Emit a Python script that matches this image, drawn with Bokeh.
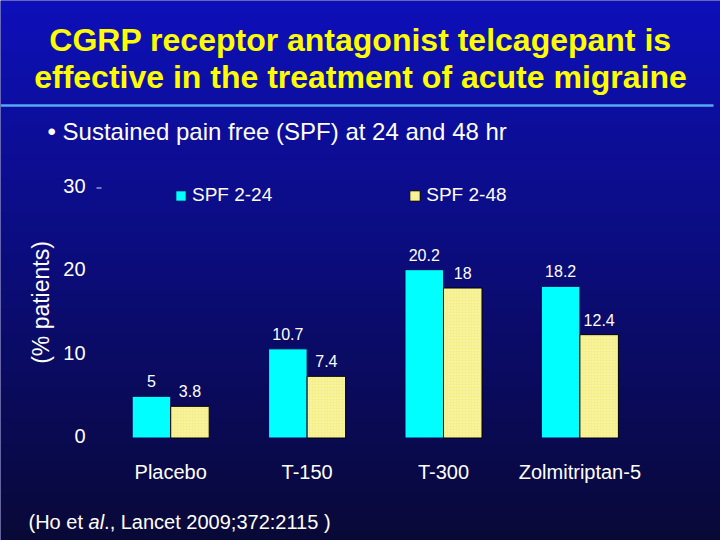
import numpy as np
from bokeh.plotting import figure
from bokeh.models import Range1d, ColumnDataSource, Label, Legend, LegendItem
from bokeh.embed import file_html
from bokeh.resources import INLINE
from bokeh.core.properties import value

# ---------------- data ----------------
categories = ["Placebo", "T-150", "T-300", "Zolmitriptan-5"]
spf_2_24 = [5, 10.7, 20.2, 18.2]
spf_2_48 = [3.8, 7.4, 18, 12.4]
labels_2_24 = ["5", "10.7", "20.2", "18.2"]
labels_2_48 = ["3.8", "7.4", "18", "12.4"]
series_names = ["SPF 2-24", "SPF 2-48"]
y_ticks = [0, 10, 20, 30]
y_tick_labels = ["0", "10", "20", "30"]
title_lines = ["CGRP receptor antagonist telcagepant is",
               "effective in the treatment of acute migraine"]
subtitle = "\u2022 Sustained pain free (SPF) at 24 and 48 hr"
y_title = "(% patients)"
foot_parts = ["(Ho et ", "al", "., Lancet 2009;372:2115 )"]

# ---------------- layout ----------------
W, H = 720, 540
GROUP_PX = 136.4      # pixels between group centres
FIRST_PX = 170.2      # pixel x of first group centre
ZERO_PX = 437.5       # pixel y (from top) of value 0
UNIT_PX = 8.333       # pixels per percentage point
BAR_W = 38.5 / GROUP_PX
FONT = "Liberation Sans"


def px_x(px):
    return (px - FIRST_PX) / GROUP_PX


def px_y(py_top):
    return (ZERO_PX - py_top) / UNIT_PX


x0, x1 = px_x(0), px_x(W)
y0, y1 = px_y(H), px_y(0)

p = figure(width=W, height=H, x_range=Range1d(x0, x1), y_range=Range1d(y0, y1),
           output_backend="svg", toolbar_location=None,
           x_axis_type=None, y_axis_type=None, min_border=0)
p.grid.visible = False
p.outline_line_color = None
p.background_fill_color = "#0a0a80"
p.border_fill_color = "#0a0a80"

# background gradient (bottom row first)
N = 270
top = np.array([14, 16, 186], dtype=float)
bot = np.array([9, 9, 56], dtype=float)
t = np.linspace(0, 1, N)[:, None]
cols = (bot + (top - bot) * t).astype(np.uint32)
img = np.empty((N, 1), dtype=np.uint32)
view = img.view(dtype=np.uint8).reshape((N, 1, 4))
view[:, 0, 0] = cols[:, 0]
view[:, 0, 1] = cols[:, 1]
view[:, 0, 2] = cols[:, 2]
view[:, 0, 3] = 255
p.image_rgba(image=[img], x=x0, y=y0, dw=x1 - x0, dh=y1 - y0)

# separator line under title
p.segment(x0=[px_x(0)], y0=[px_y(105)], x1=[px_x(713)], y1=[px_y(105)],
          line_color="#55aaf5", line_width=2.5)

# ---------------- bars ----------------
idx = list(range(len(categories)))
src = ColumnDataSource(dict(
    x24=[i - BAR_W / 2 for i in idx], x48=[i + BAR_W / 2 for i in idx],
    v24=spf_2_24, v48=spf_2_48,
    t24=labels_2_24, t48=labels_2_48,
    ly24=[v + 15 / UNIT_PX for v in spf_2_24],
    ly48=[v + 15 / UNIT_PX for v in spf_2_48],
    cx=idx, cat=categories, cy=[px_y(471)] * len(idx)))

r24 = p.vbar(x="x24", top="v24", bottom=0, width=BAR_W, source=src,
             fill_color="#00ffff", line_color="#06065a", line_width=1)
r48 = p.vbar(x="x48", top="v48", bottom=0, width=BAR_W, source=src,
             fill_color="#f6f08c", line_color="#000000", line_width=1,
             hatch_pattern="dot", hatch_color="#fffff0", hatch_scale=3,
             hatch_weight=0.8, hatch_alpha=0.5)

# value labels
for xc, yc, tc in (("x24", "ly24", "t24"), ("x48", "ly48", "t48")):
    p.text(x=xc, y=yc, text=tc, source=src, text_align="center",
           text_baseline="middle", text_color="white",
           text_font=value(FONT), text_font_size="16px")

# category labels
p.text(x="cx", y="cy", text="cat", source=src, text_align="center",
       text_baseline="alphabetic", text_color="white",
       text_font=value(FONT), text_font_size="20px")

# y tick labels
tick_src = ColumnDataSource(dict(x=[px_x(85)] * len(y_ticks),
                                 y=[v + 2 / UNIT_PX for v in y_ticks],
                                 t=y_tick_labels))
p.text(x="x", y="y", text="t", source=tick_src, text_align="right",
       text_baseline="middle", text_color="white",
       text_font=value(FONT), text_font_size="20px")
p.segment(x0=[px_x(96)], y0=[y_ticks[-1]], x1=[px_x(101)], y1=[y_ticks[-1]],
          line_color="#dddddd", line_width=1)

# y axis title
p.add_layout(Label(x=40, y=H - 302, x_units="screen", y_units="screen",
                   text=y_title, angle=np.pi / 2, text_align="center",
                   text_baseline="middle", text_color="white",
                   text_font=FONT, text_font_size="23px"))

# legend
legend = Legend(items=[LegendItem(label=series_names[0], renderers=[r24]),
                       LegendItem(label=series_names[1], renderers=[r48])],
                orientation="horizontal", location=(174, H - 206),
                glyph_width=13, glyph_height=13, label_standoff=5,
                spacing=136, padding=0, margin=0,
                label_text_color="white", label_text_font=FONT,
                label_text_font_size="19px",
                background_fill_alpha=0, border_line_alpha=0)
p.add_layout(legend, "center")

# title & subtitle
for line, base in zip(title_lines, (39, 76)):
    p.add_layout(Label(x=W / 2, y=H - base, x_units="screen", y_units="screen",
                       text=line, text_align="center", text_baseline="alphabetic",
                       text_color="#ffff00", text_font=FONT,
                       text_font_size="32px", text_font_style="bold"))
p.add_layout(Label(x=47, y=H - 131, x_units="screen", y_units="screen",
                   text=subtitle, text_align="left", text_baseline="alphabetic",
                   text_color="white", text_font=FONT, text_font_size="24px"))

# footnote with italic "al"
fs = 20
xs = [28, 28 + 3.001 * fs, 28 + (3.001 + 0.778) * fs]
styles = ["normal", "italic", "normal"]
for part, xx, st in zip(foot_parts, xs, styles):
    p.add_layout(Label(x=xx, y=H - 521, x_units="screen", y_units="screen",
                       text=part, text_align="left", text_baseline="alphabetic",
                       text_color="white", text_font=FONT,
                       text_font_size=f"{fs}px", text_font_style=st))

open("out.html", "w").write(file_html(p, INLINE))
